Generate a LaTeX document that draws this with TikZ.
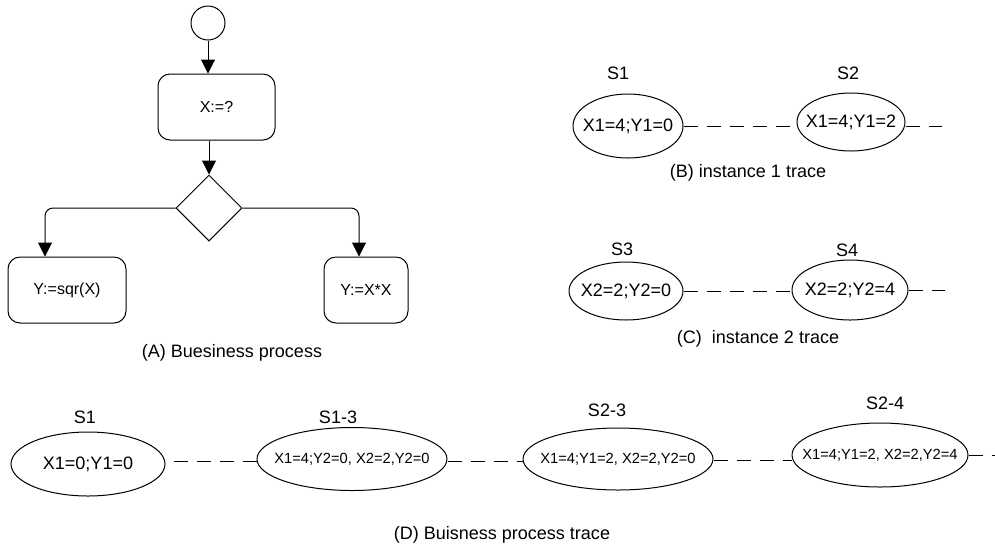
\documentclass[tikz,border=0pt]{standalone}
\usepackage{fontspec}
\setmainfont{Liberation Sans}
\usetikzlibrary{shapes.geometric,arrows.meta}

\tikzset{
  act/.style={draw,rounded corners=12pt,line width=1pt,font=\fontsize{16}{18}\selectfont},
  st/.style={draw,ellipse,line width=1pt,inner ysep=0pt,inner xsep=-14pt,font=\fontsize{18}{20}\selectfont},
  bigst/.style={st,inner xsep=-16pt,font=\fontsize{14.7}{16}\selectfont},
  lbl/.style={font=\fontsize{18}{20}\selectfont},
  flow/.style={line width=1pt,-{Triangle[width=14pt,length=14pt]}},
  link/.style={line width=1pt,dash pattern=on 14pt off 9pt}
}

\begin{document}
\begin{tikzpicture}[x=1pt,y=-1pt]
  \useasboundingbox (0,0) rectangle (995,550);

  \node[draw,circle,line width=1pt,minimum size=34pt,inner sep=0pt] (start) at (208,23) {};
  \node[act,minimum width=117pt,minimum height=66pt] (setx) at (216.5,107) {X:=?};
  \node[draw,diamond,line width=1pt,minimum size=66pt,inner sep=0pt] (gw) at (209,208) {};
  \node[act,minimum width=118pt,minimum height=66pt] (sqr) at (67,290) {Y:=sqr(X)};
  \node[act,minimum width=84pt,minimum height=66pt] (sq) at (366,290) {Y:=X*X};
  \draw[flow] (start.south) -- (start.south |- setx.north);
  \draw[flow] (gw.north |- setx.south) -- (gw.north);
  \draw[flow,rounded corners=8pt] (gw.west) -| ([xshift=-22pt]sqr.north);
  \draw[flow,rounded corners=8pt] (gw.east) -| ([xshift=-7pt]sq.north);
  \node[lbl] (capa) at (232,353) {(A) Buesiness process};

  \node[st,minimum width=110pt,minimum height=64pt] (b1) at (628,126) {X1=4;Y1=0};
  \node[st,minimum width=108pt,minimum height=58pt] (b2) at (851,122) {X1=4;Y1=2};
  \node[lbl] (b1n) at (618,73) {S1};
  \node[lbl] (b2n) at (848,73) {S2};
  \coordinate (bend) at (942,126);
  \draw[link] (b1.east) -- (b1.east -| b2.west);
  \draw[link] (b1.east -| b2.east) -- (bend);
  \node[lbl] (capb) at (748,173) {(B) instance 1 trace};

  \node[st,minimum width=114pt,minimum height=58pt] (c1) at (626,291) {X2=2;Y2=0};
  \node[st,minimum width=116pt,minimum height=60pt] (c2) at (850,290) {X2=2;Y2=4};
  \node[lbl] (c1n) at (622,249) {S3};
  \node[lbl] (c2n) at (847,250) {S4};
  \coordinate (cend) at (945,290);
  \draw[link] (c1.east) -- (c1.east -| c2.west);
  \draw[link] (c2.east) -- (cend);
  \node[lbl] (capc) at (758,339) {(C)\ \ instance 2 trace};

  \node[st,minimum width=154pt,minimum height=64pt] (d1) at (88,464) {X1=0;Y1=0};
  \node[bigst,minimum width=190pt,minimum height=63pt] (d2) at (352,459) {X1=4;Y2=0, X2=2,Y2=0};
  \node[bigst,minimum width=190pt,minimum height=62pt] (d3) at (618,459) {X1=4;Y1=2, X2=2,Y2=0};
  \node[bigst,minimum width=176pt,minimum height=64pt] (d4) at (880,455) {X1=4;Y1=2, X2=2,Y2=4};
  \node[lbl] (d1n) at (85,417) {S1};
  \node[lbl] (d2n) at (338,417) {S1-3};
  \node[lbl] (d3n) at (607,410) {S2-3};
  \node[lbl] (d4n) at (885,403) {S2-4};
  \coordinate (dend) at (995,455);
  \draw[link] (d2.west |- 0,461) -- (d1.east |- 0,461);
  \draw[link] (d2.east |- 0,461) -- (d3.west |- 0,461);
  \draw[link] (d3.east |- 0,460) -- (d4.west |- 0,460);
  \draw[link] (d4.east) -- (dend);
  \node[lbl] (capd) at (502,535) {(D) Buisness process trace};
\end{tikzpicture}
\end{document}
